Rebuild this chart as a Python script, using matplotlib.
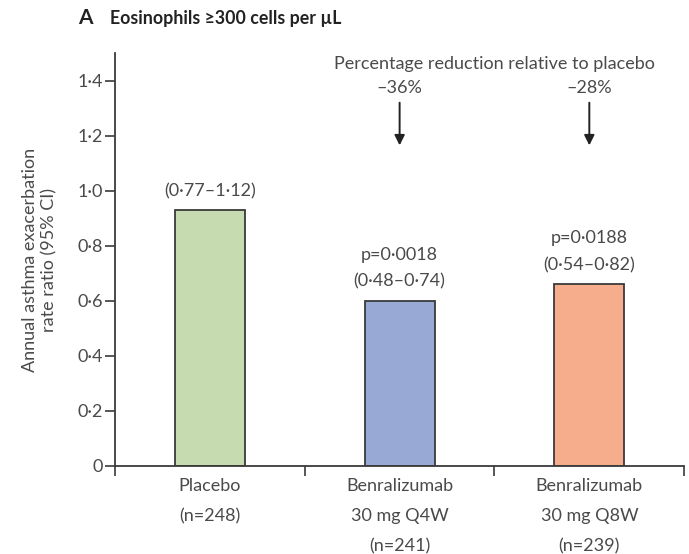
import matplotlib.pyplot as plt
import numpy as np

plt.rcParams['font.family'] = ['Lato', 'DejaVu Sans']

# Rate ratios and labels
groups = ["Placebo\n(n=248)", "Benralizumab\n30 mg Q4W\n(n=241)", "Benralizumab\n30 mg Q8W\n(n=239)"]
rate_ratio = [0.93, 0.60, 0.66]
ci_labels = ["(0·77–1·12)", "p=0·0018\n(0·48–0·74)", "p=0·0188\n(0·54–0·82)"]
reduction = [None, "–36%", "–28%"]
colors = ["#c6dcb0", "#98a9d6", "#f6ad8b"]

yticks = [0, 0.2, 0.4, 0.6, 0.8, 1.0, 1.2, 1.4]
ytick_labels = ["0", "0·2", "0·4", "0·6", "0·8", "1·0", "1·2", "1·4"]

ink = "#3a3a3a"
text_col = "#4a4a4a"
fs = 13

fig = plt.figure(figsize=(6.89, 5.54), dpi=100)
ax = fig.add_axes([0.167, 0.159, 0.826, 0.745])

x = np.arange(len(groups))
ax.bar(x, rate_ratio, width=0.37, color=colors, edgecolor=ink, linewidth=1.3)

for xi, val, lab in zip(x, rate_ratio, ci_labels):
    ax.text(xi, val + 0.04, lab, ha='center', va='bottom', fontsize=fs,
            color=text_col, linespacing=1.85)

# Reduction arrows above the treatment bars
ax.text(1.5, 1.46, "Percentage reduction relative to placebo", ha='center', va='center',
        fontsize=fs, color=text_col)
for xi, r in zip(x, reduction):
    if r is None:
        continue
    ax.text(xi, 1.375, r, ha='center', va='center', fontsize=fs, color=text_col)
    ax.annotate("", xy=(xi, 1.165), xytext=(xi, 1.32),
                arrowprops=dict(arrowstyle="-|>", color="#222222", lw=1.4,
                                mutation_scale=15, shrinkA=0, shrinkB=0))

ax.set_xlim(-0.5, 2.5)
ax.set_ylim(0, 1.5)
ax.set_yticks(yticks)
ax.set_yticklabels(ytick_labels, fontsize=fs, color=text_col)
ax.set_xticks(x)
ax.set_xticklabels(groups, fontsize=fs, color=text_col, linespacing=2.05)
ax.tick_params(axis='x', which='major', length=0, pad=9)
ax.set_xticks([-0.5, 0.5, 1.5, 2.5], minor=True)
ax.tick_params(axis='x', which='minor', length=7, width=1.2, color=ink, direction='out')
ax.tick_params(axis='y', length=7, width=1.2, color=ink, direction='out', pad=2)

for side in ['top', 'right']:
    ax.spines[side].set_visible(False)
for side in ['left', 'bottom']:
    ax.spines[side].set_color(ink)
    ax.spines[side].set_linewidth(1.3)

ax.set_ylabel("Annual asthma exacerbation\nrate ratio (95% CI)", fontsize=fs,
              color=text_col, labelpad=14, linespacing=1.3)

fig.text(0.114, 0.967, "A", fontsize=15, fontweight='bold', color="#222222", va='center')
fig.text(0.16, 0.967, "Eosinophils ≥300 cells per µL", fontsize=12.8, fontweight='bold',
         color="#222222", va='center')

fig.savefig("out.png", dpi=100, facecolor='white')
